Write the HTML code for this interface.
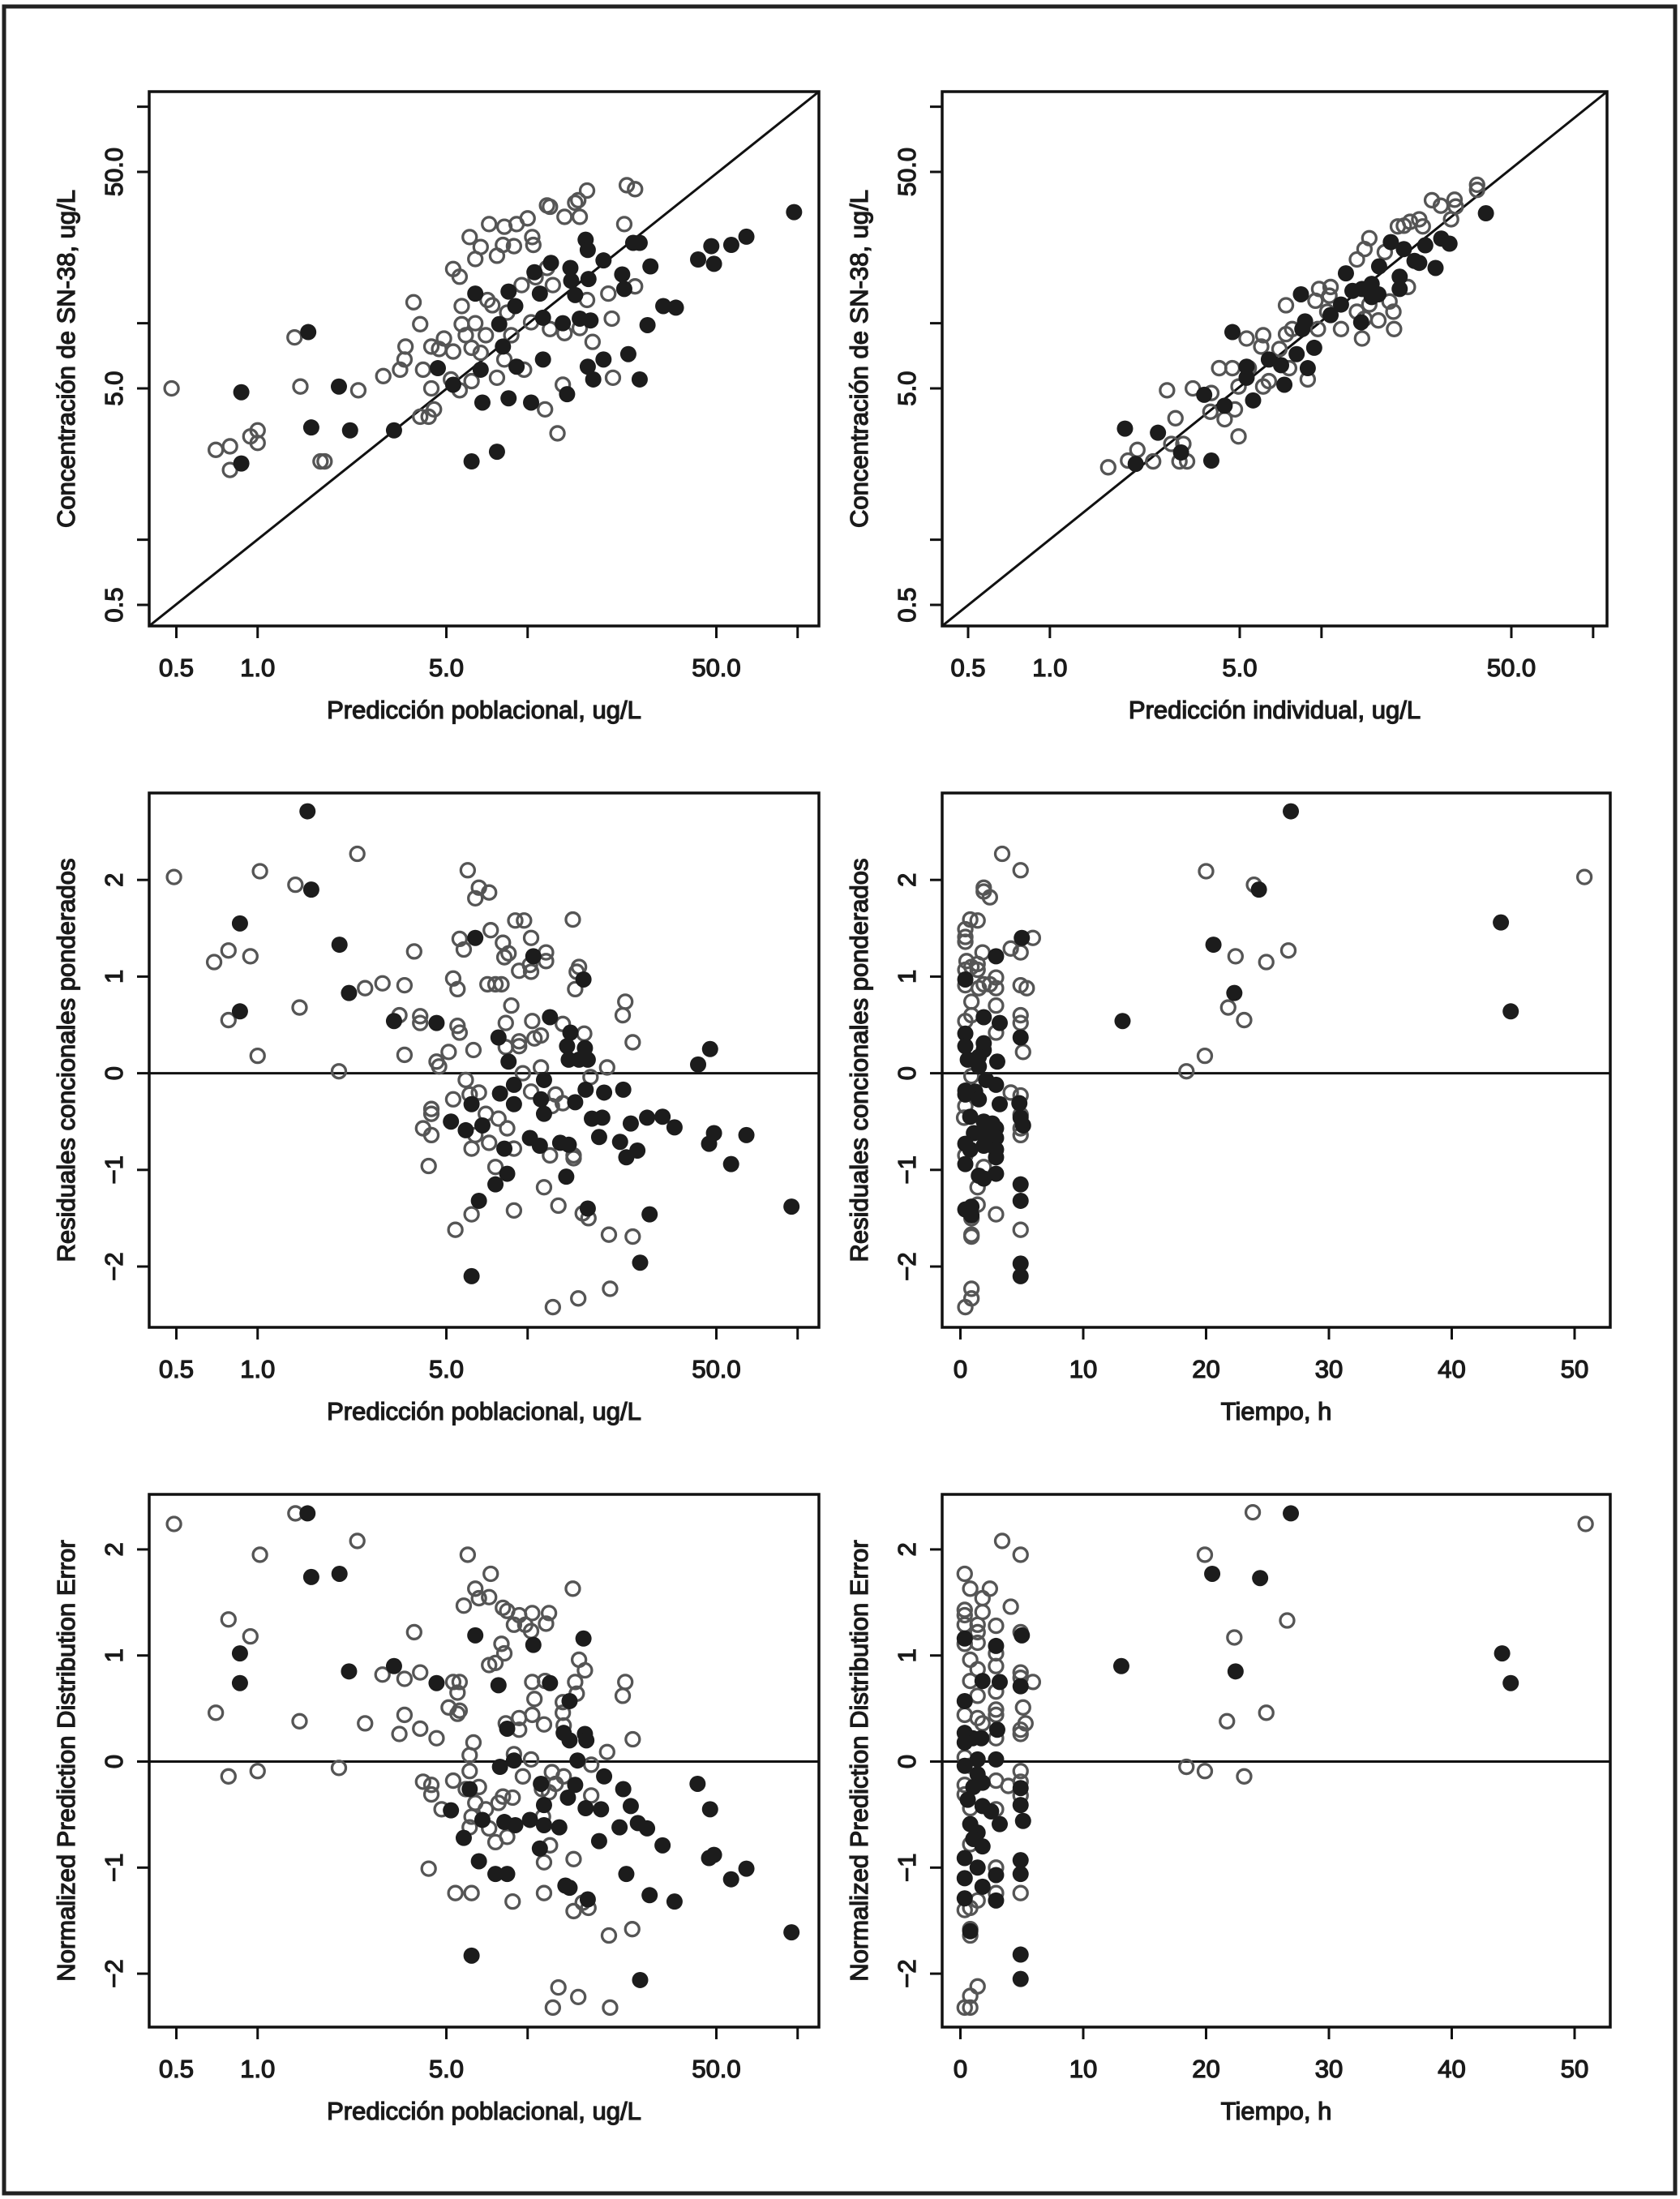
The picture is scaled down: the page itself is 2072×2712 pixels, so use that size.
<!DOCTYPE html>
<html><head><meta charset="utf-8"><title>Diagnostic plots SN-38</title>
<style>
html,body{margin:0;padding:0;background:#fff;}
svg{display:block;}
text{font-family:"Liberation Sans",sans-serif;fill:#1a1a1a;stroke:#1a1a1a;stroke-width:1.3px;}
</style></head>
<body>
<svg id="fig" width="2072" height="2712" viewBox="0 0 2072 2712" xmlns="http://www.w3.org/2000/svg">
<rect x="5" y="8" width="2061" height="2697" fill="#fff" stroke="#222" stroke-width="5"/>
</svg>
<script>
// ---------- Panel 1: PRED vs observed ----------
const p1PredFilled=[0.87,0.87,1.54,1.58,2.0,2.2,3.2,4.65,5.3,6.4,6.2,6.8,6.7,7.7,7.85,8.1,8.5,8.5,9.0,9.1,10.3,10.6,11.1,11.4,11.4,12.2,13.5,14,14.4,14.5,15,15.6,16.4,16.7,16.8,17.1,16.7,17.5,19.1,19.1,22.4,22.8,23.6,24.6,26,26,27.8,28.5,31.8,35.4,42.8,47.9,49,56.8,64.6,97];
const p1ObsFilled=[4.8,2.25,9.1,3.3,5.1,3.2,3.2,6.2,5.2,13.7,2.3,4.3,6.1,2.55,9.9,7.8,4.5,14,12,6.3,4.3,17.2,13.7,6.8,10.6,19,10,4.7,18,15.7,13.5,10.5,24.3,21.8,16.0,10.3,6.3,5.5,6.8,19.5,16.8,14.4,7.2,23.5,23.5,5.5,9.8,18.3,12,11.8,19.7,22.7,18.8,23,25.1,32.6];
const p1PredOpen=[0.48,0.70,0.79,0.79,0.94,1.0,1.0,1.37,1.44,1.71,1.77,2.36,2.92,3.37,3.5,3.53,3.78,4.0,4.1,4.0,4.3,4.5,4.4,4.4,4.7,4.9,5.3,5.2,5.3,5.6,5.6,5.7,5.7,5.9,6.1,6.2,6.2,6.4,6.4,6.7,6.7,7.0,7.1,7.2,7.4,7.7,7.7,8.1,8.2,8.4,8.9,9.1,10,9.5,8.2,8.7,9.7,10.3,10.4,10.5,10.7,11.6,11.8,11.8,12.1,12.1,12.4,12.9,13.5,13.7,13.7,15,15.4,15.6,15.6,16.6,16.6,17.4,19.9,20.5,20.7,22.8,23.3,25,25];
const p1ObsOpen=[5.0,2.6,2.7,2.1,3.0,3.2,2.8,8.6,5.1,2.3,2.3,4.9,5.7,6.1,6.8,7.8,12.5,9.9,6.1,3.7,3.7,4.0,5.0,7.8,7.6,8.5,7.4,5.5,17.8,16.4,4.9,9.9,12,8.8,25,7.7,5.4,19.8,10,22.5,7.3,8.8,12.8,28.7,12.1,20.5,5.6,23,27.9,11.2,22.7,28.7,30.5,15,6.8,8.8,6.1,10.1,25,23,16.3,4.0,18,35,34.5,9.4,15,3.1,5.2,31,9.0,36,37,31,9.5,41,12.8,8.2,13.7,10.5,5.6,28.7,43.4,41.6,14.8];

// ---------- Panel 2: IPRED vs observed ----------
const p2IpredFilled=[1.89,2.07,2.5,3.04,3.93,3.7,4.4,4.7,5.3,5.3,5.6,6.4,7.3,7.1,8.1,8.9,8.4,8.7,9.4,8.5,10.8,11.8,12.3,14,14.1,15.3,16.2,16.3,18,19.4,19.4,20.1,22,22.9,24.1,26.3,27.6,29.6,40.3,15.3,13.0];
const p2ObsFilled=[3.26,2.24,3.12,2.53,2.32,4.67,4.16,9.1,6.3,5.6,4.4,6.8,5.2,6.4,7.2,6.2,13.6,10.2,7.7,9.4,10.9,12.2,17,10.1,14.4,13.2,13.6,18.3,23.7,16.4,14.4,22,19.4,19,22.9,18,24.6,23.3,32.2,15.2,14.1];
const p2IpredOpen=[1.64,1.94,2.1,2.4,2.7,2.9,3.0,3.2,2.8,3.1,3.36,3.93,3.9,4.4,4.8,4.95,4.2,4.7,5.4,4.95,6.1,6.4,5.3,6.1,6.0,7.0,7.4,7.8,7.4,7.6,8.9,9.7,9.5,9.8,10.8,11.8,13.5,14.4,16.2,18.5,14.1,13.5,14.4,15,17.1,19.1,20.1,21.2,22.9,23.6,20.8,17.8,25.5,27.5,30.9,31.2,30,37.4,37.4,10.7,10.5,15,18.4];
const p2ObsOpen=[2.16,2.32,2.6,2.3,4.9,3.64,2.3,2.3,2.77,2.77,5.0,4.76,3.9,3.6,4.0,3.0,6.2,6.2,6.2,5.1,5.1,5.4,8.5,8.8,7.8,7.6,8.9,9.4,12.1,6.2,5.5,9.4,12.7,14.4,14.7,9.4,11.3,10.5,10.3,9.4,8.5,19.7,22,24.7,21.3,28,28.2,29.4,30.2,28,14.7,12.6,37,34.9,37.2,34.6,30.2,43.6,41.3,13.4,11.3,12.2,11.3];

// ---------- Panel 3: PRED vs CWRES ----------
const p3PredFilled=[1.53,1.58,0.86,2.01,2.18,0.86,3.2,4.6,6.4,10.5,16.1,12.1,7.8,14.4,14,16.3,14.2,15.5,16.7,8.5,47.4,42.8,11.5,8.9,7.9,11.2,8.9,6.2,16.4,19.2,22.6,15,11.5,5.2,6.8,5.9,17.3,18.9,24.1,27.7,31.6,35,49,47,64.6,18.4,10.2,11.1,13.2,14.2,22,25.5,23.2,8.2,56.7,8.4,7.6,13.9,6.6,16.7,28.3,94.9,26.1,6.2];
const p3CwresFilled=[2.71,1.90,1.55,1.33,0.83,0.64,0.54,0.52,1.40,1.21,0.97,0.58,0.37,0.42,0.28,0.26,0.14,0.14,0.14,0.12,0.25,0.09,-0.07,-0.12,-0.21,-0.27,-0.32,-0.32,-0.17,-0.2,-0.17,-0.3,-0.42,-0.5,-0.54,-0.59,-0.47,-0.46,-0.52,-0.46,-0.45,-0.56,-0.62,-0.73,-0.64,-0.66,-0.67,-0.75,-0.72,-0.74,-0.71,-0.8,-0.87,-0.78,-0.94,-1.04,-1.15,-1.07,-1.32,-1.4,-1.46,-1.38,-1.96,-2.1];
const p3PredOpen=[0.49,1.02,1.38,2.34,6.0,6.6,7.2,6.4,0.78,0.69,0.94,3.8,5.6,5.8,7.3,9.0,9.7,14.7,10.3,8.1,8.5,8.2,11.7,11.7,10.2,10.3,9.3,15.5,15.2,15,5.3,5.5,2.9,3.5,2.5,1.43,0.78,1.0,2.0,7.1,7.6,8.0,8.7,3.35,4.0,4.0,23,22.5,24.5,5.5,5.6,8.3,10.4,13.5,16.2,10.6,11.2,9.3,9.3,8.3,6.3,5.1,3.5,4.6,4.7,11.2,19.7,9.6,17.1,5.9,6.1,6.6,5.3,10.3,12.7,12.3,13.5,4.4,4.4,4.1,4.4,7.0,7.8,8.4,6.4,7.2,6.2,8.9,12.1,14.8,14.8,4.3,7.6,11.5,13,16,16.8,8.9,6.2,5.4,20,24.5,20.2,15.4,12.4];
const p3CwresOpen=[2.03,2.09,1.95,2.27,2.10,1.92,1.87,1.81,1.27,1.15,1.21,1.26,1.39,1.28,1.48,1.58,1.58,1.59,1.40,1.35,1.24,1.2,1.25,1.16,1.12,1.05,1.06,1.1,1.05,0.87,0.98,0.87,0.93,0.91,0.88,0.68,0.55,0.18,0.02,0.92,0.92,0.92,0.7,0.6,0.59,0.52,0.74,0.6,0.32,0.49,0.42,0.52,0.54,0.51,0.41,0.36,0.39,0.33,0.28,0.27,0.24,0.22,0.19,0.12,0.07,0.06,0.06,0.0,-0.04,-0.07,-0.22,-0.2,-0.27,-0.19,-0.22,-0.34,-0.31,-0.37,-0.42,-0.57,-0.64,-0.42,-0.47,-0.57,-0.64,-0.72,-0.78,-0.78,-0.85,-0.85,-0.88,-0.96,-0.97,-1.18,-1.37,-1.45,-1.5,-1.42,-1.46,-1.62,-1.67,-1.69,-2.23,-2.33,-2.42];

// ---------- Panel 4: Time vs CWRES ----------
const p4TimeFilled=[26.9,24.3,44.0,20.6,22.3,44.8,13.2,5.0,2.9,0.4,1.9,3.2,4.9,0.4,0.4,1.9,1.9,0.6,1.5,3.0,1.5,2.1,2.9,0.4,0.4,1.2,1.5,3.2,4.8,0.8,1.9,2.6,2.9,4.9,5.1,1.1,1.9,2.9,0.4,0.8,1.9,2.9,2.9,0.4,1.5,1.9,2.9,4.9,4.9,0.4,0.9,0.9,4.9,4.9];
const p4CwresFilled=[2.71,1.90,1.56,1.33,0.83,0.64,0.54,1.40,1.21,0.97,0.58,0.52,0.37,0.41,0.28,0.31,0.24,0.14,0.17,0.12,0.07,-0.07,-0.12,-0.18,-0.22,-0.19,-0.27,-0.32,-0.31,-0.45,-0.5,-0.52,-0.57,-0.46,-0.54,-0.62,-0.62,-0.67,-0.73,-0.79,-0.75,-0.79,-0.87,-0.94,-1.06,-1.09,-1.04,-1.15,-1.32,-1.41,-1.38,-1.47,-1.97,-2.1];
const p4TimeOpen=[3.4,4.9,20.0,23.9,50.8,1.9,1.9,2.4,0.8,1.4,0.4,0.4,0.4,5.9,4.1,4.9,1.8,26.7,22.4,24.9,0.5,0.9,1.4,1.4,0.4,0.4,1.9,2.9,2.9,2.4,1.5,4.9,5.4,0.9,2.9,21.8,23.1,19.9,18.4,4.9,4.9,0.4,0.9,2.9,5.1,0.9,4.1,4.9,0.4,0.3,4.9,4.9,4.9,0.4,1.9,1.4,1.4,2.9,0.9,0.9,0.9,4.9,0.9,0.9,0.4];
const p4CwresOpen=[2.27,2.1,2.09,1.95,2.03,1.92,1.88,1.82,1.59,1.58,1.49,1.41,1.36,1.4,1.29,1.25,1.25,1.27,1.21,1.15,1.16,1.1,1.13,1.07,1.07,0.91,0.92,0.99,0.88,0.92,0.88,0.91,0.88,0.74,0.7,0.68,0.55,0.18,0.02,0.6,0.52,0.54,0.6,0.42,0.22,-0.03,-0.2,-0.23,-0.34,-0.46,-0.43,-0.57,-0.64,-0.85,-0.97,-1.18,-1.36,-1.46,-1.5,-1.67,-1.69,-1.62,-2.23,-2.33,-2.42];

// ---------- Panel 5: PRED vs NPDE ----------
const p5PredFilled=[1.53,1.58,2.01,0.86,0.86,2.18,3.2,4.6,6.4,10.5,16.1,12.1,7.8,14.3,8.4,13.6,14.3,16.3,16.5,8.9,15.3,7.9,19.2,11.2,15,22.6,42.6,6.1,14.1,11.5,16.4,18.7,24.1,47.4,5.2,6.8,8.2,9.0,10.2,11.5,13.1,21.9,25.6,27.7,5.8,18.4,31.6,11.1,47,49,64.6,56.7,6.6,7.6,8.4,23.2,13.8,14.3,28.3,35,16.7,94.9,6.2,26.1];
const p5NpdeFilled=[2.34,1.74,1.77,1.02,0.74,0.85,0.9,0.74,1.19,1.1,1.16,0.74,0.72,0.57,0.31,0.27,0.2,0.26,0.2,0.01,0.01,-0.05,-0.14,-0.21,-0.22,-0.26,-0.21,-0.26,-0.34,-0.41,-0.44,-0.45,-0.42,-0.45,-0.46,-0.55,-0.57,-0.6,-0.55,-0.6,-0.62,-0.62,-0.58,-0.63,-0.72,-0.75,-0.79,-0.82,-0.91,-0.88,-1.01,-1.11,-0.94,-1.06,-1.06,-1.06,-1.17,-1.19,-1.26,-1.32,-1.3,-1.61,-1.83,-2.06];
const p5PredOpen=[0.49,1.38,2.34,1.02,6.0,7.3,14.7,6.4,6.6,7.2,5.8,8.1,8.4,9.3,8.9,9.8,10.3,10.4,12.0,11.7,0.78,0.94,3.8,8.0,8.2,7.2,7.6,15.5,16.3,2.9,3.5,4.0,5.3,5.6,5.5,10.4,11.6,15.0,15.2,23,22.5,10.6,0.70,1.43,2.5,5.1,5.6,5.5,3.5,13.5,13.5,9.3,10.4,11.5,8.3,9.3,13.6,3.35,4.0,4.6,24.5,6.3,6.1,19.7,8.9,10.3,0.78,1.0,2.0,6.1,17.2,12.3,13.6,9.6,4.1,4.4,4.4,5.3,6.6,5.9,11.3,12.0,12.7,17.2,7.8,8.8,8.1,6.4,4.8,7.0,6.2,11.4,6.1,7.2,8.4,7.6,12.1,11.5,14.8,4.3,5.4,6.2,11.5,8.8,16,14.8,16.8,20,24.4,13,15.4,12.4,20.2];
const p5NpdeOpen=[2.24,2.34,2.08,1.95,1.95,1.77,1.63,1.63,1.54,1.55,1.47,1.45,1.42,1.38,1.29,1.29,1.23,1.4,1.4,1.3,1.34,1.18,1.22,1.11,1.02,0.91,0.93,0.96,0.86,0.82,0.78,0.84,0.75,0.75,0.65,0.75,0.76,0.75,0.64,0.75,0.62,0.59,0.46,0.38,0.36,0.51,0.48,0.45,0.44,0.56,0.46,0.41,0.44,0.35,0.36,0.3,0.34,0.26,0.31,0.22,0.21,0.18,0.06,0.09,0.07,0.02,-0.14,-0.09,-0.06,-0.09,-0.03,-0.1,-0.14,-0.14,-0.19,-0.22,-0.31,-0.18,-0.24,-0.26,-0.26,-0.29,-0.21,-0.32,-0.39,-0.34,-0.33,-0.39,-0.45,-0.45,-0.52,-0.52,-0.62,-0.63,-0.71,-0.76,-0.79,-0.95,-0.92,-1.01,-1.24,-1.24,-1.24,-1.32,-1.33,-1.41,-1.38,-1.64,-1.58,-2.13,-2.22,-2.32,-2.32];

// ---------- Panel 6: Time vs NPDE ----------
const p6TimeFilled=[26.9,20.5,24.4,13.1,22.4,44.1,44.8,0.35,2.9,5.0,1.8,3.2,4.9,0.35,3.0,0.35,1.0,1.7,0.35,2.9,1.4,0.35,1.4,1.8,1.05,4.9,0.6,4.9,5.1,1.8,2.5,3.2,0.8,1.4,1.05,1.8,0.35,1.4,1.8,0.35,2.9,2.9,0.35,4.9,4.9,0.8,4.9,4.9];
const p6NpdeFilled=[2.34,1.77,1.73,0.9,0.85,1.02,0.74,1.16,1.09,1.19,0.76,0.75,0.71,0.57,0.3,0.27,0.22,0.22,0.18,0.02,0.02,-0.04,-0.12,-0.2,-0.24,-0.25,-0.36,-0.41,-0.56,-0.42,-0.47,-0.59,-0.59,-0.67,-0.73,-0.8,-0.91,-1.0,-1.18,-1.29,-1.07,-1.31,-1.1,-0.93,-1.06,-1.6,-1.82,-2.05];
const p6TimeOpen=[3.4,4.9,19.9,23.8,50.9,0.35,0.8,2.4,1.8,1.8,4.1,0.35,0.35,0.35,1.4,1.4,2.9,26.6,22.3,4.9,0.35,1.4,0.8,2.9,2.9,1.4,4.9,4.9,5.9,0.8,1.4,2.9,5.1,2.9,2.9,0.35,1.4,1.8,24.9,21.7,5.3,4.9,4.9,2.9,0.35,0.8,18.4,19.9,23.1,2.9,3.9,4.9,4.9,0.35,0.35,0.8,2.9,4.9,0.8,2.9,2.9,4.9,1.4,0.35,0.8,0.8,0.8,1.4,0.8,0.35,0.8];
const p6NpdeOpen=[2.08,1.95,1.95,2.35,2.24,1.77,1.63,1.63,1.54,1.41,1.46,1.43,1.38,1.29,1.29,1.22,1.28,1.33,1.17,1.22,1.11,1.12,0.96,1.02,0.9,0.87,0.84,0.79,0.75,0.76,0.62,0.66,0.51,0.49,0.44,0.44,0.41,0.36,0.46,0.38,0.36,0.3,0.26,0.22,0.04,-0.04,-0.05,-0.09,-0.14,-0.18,-0.23,-0.09,-0.19,-0.22,-0.31,-0.44,-0.45,-0.32,-0.78,-1.0,-1.24,-1.24,-1.31,-1.4,-1.38,-1.58,-1.64,-2.12,-2.21,-2.32,-2.32];

// ---------- Axis tick labels ----------
const logTicks=[0.5,1,5,10,50,100];
const logTickLabels=["0.5","1.0","5.0","","50.0",""];
const obsTicks=[0.5,1,5,10,50,100];
const obsTickLabels=["0.5","","5.0","","50.0",""];
const resTicks=[-2,-1,0,1,2];
const resTickLabels=["\u22122","\u22121","0","1","2"];
const timeTicks=[0,10,20,30,40,50];
const timeTickLabels=["0","10","20","30","40","50"];

const NS="http://www.w3.org/2000/svg";
const svg=document.getElementById('fig');
function mk(tag,attrs,parent){const e=document.createElementNS(NS,tag);for(const k in attrs)e.setAttribute(k,attrs[k]);(parent||svg).appendChild(e);return e;}

function logScale(v0Val,v0Px,decPx,dir){return v=>v0Px+dir*decPx*(Math.log10(v)-Math.log10(v0Val));}
function linScale(v0Px,unitPx,dir){return v=>v0Px+dir*unitPx*v;}

function panel(cfg){
  const g=mk('g',{});
  
  
  const b=cfg.box;
  if(cfg.identity){
    const ln=mk('line',{x1:b.l,y1:b.b,x2:b.r,y2:b.t,stroke:'#111','stroke-width':3},g);
    
    
  }
  if(cfg.zeroLine){
    const y0=cfg.sy(0);
    const ln=mk('line',{x1:b.l,y1:y0,x2:b.r,y2:y0,stroke:'#111','stroke-width':3},g);
    
    
  }
  for(let i=0;i<cfg.xo.length;i++){
    const c=mk('circle',{cx:cfg.sx(cfg.xo[i]),cy:cfg.sy(cfg.yo[i]),r:8.5,fill:'none',stroke:'#555','stroke-width':3.3},g);
    
    
  }
  for(let i=0;i<cfg.xf.length;i++){
    const c=mk('circle',{cx:cfg.sx(cfg.xf[i]),cy:cfg.sy(cfg.yf[i]),r:10,fill:'#1c1c1c',stroke:'none'},g);
    
    
  }
  const box=mk('rect',{x:b.l,y:b.t,width:b.r-b.l,height:b.b-b.t,fill:'none',stroke:'#111','stroke-width':3.5},g);
  
  
  cfg.xTicks.forEach((v,i)=>{
    const x=cfg.sx(v);
    const t=mk('line',{x1:x,y1:b.b,x2:x,y2:b.b+15,stroke:'#111','stroke-width':3},g);
    
    
    if(cfg.xLabels[i]){
      const tx=mk('text',{x:x,y:b.b+62,'text-anchor':'middle','font-size':31},g);
      tx.textContent=cfg.xLabels[i];
      
      
    }
  });
  cfg.yTicks.forEach((v,i)=>{
    const y=cfg.sy(v);
    const t=mk('line',{x1:b.l,y1:y,x2:b.l-15,y2:y,stroke:'#111','stroke-width':3},g);
    
    
    if(cfg.yLabels[i]){
      const xx=b.l-33;
      const tx=mk('text',{x:xx,y:y,'text-anchor':'middle','font-size':31,transform:`rotate(-90 ${xx} ${y})`},g);
      tx.textContent=cfg.yLabels[i];
      
      
    }
  });
  const cx=(b.l+b.r)/2;
  const xt=mk('text',{x:cx,y:b.b+114,'text-anchor':'middle','font-size':31},g);
  xt.textContent=cfg.xTitle;
  
  
  const cy=(b.t+b.b)/2, yx=b.l-92;
  const yt=mk('text',{x:yx,y:cy,'text-anchor':'middle','font-size':31,transform:`rotate(-90 ${yx} ${cy})`},g);
  yt.textContent=cfg.yTitle;
  
  
}

const B1={l:184,r:1010,t:113,b:772}, B2={l:1162,r:1982,t:113,b:772};
const B3={l:184,r:1010,t:978,b:1637}, B4={l:1162,r:1986,t:978,b:1637};
const B5={l:184,r:1010,t:1843,b:2500}, B6={l:1162,r:1986,t:1843,b:2500};
const sxL=logScale(0.5,217.5,333,1);
const sx2=logScale(0.5,1194,335,1);
const syObs=logScale(5,479,267,-1);
const syRes=linScale(1323.6,119.2,-1);
const syNp=linScale(2172.5,130.8,-1);
const sxT=linScale(1184.5,15.15,1);

panel({name:'panel-observed-vs-population-prediction',box:B1,sx:sxL,sy:syObs,identity:true,xf:p1PredFilled,yf:p1ObsFilled,xo:p1PredOpen,yo:p1ObsOpen,xTicks:logTicks,xLabels:logTickLabels,yTicks:obsTicks,yLabels:obsTickLabels,xTitle:'Predicción poblacional, ug/L',yTitle:'Concentración de SN-38, ug/L'});
panel({name:'panel-observed-vs-individual-prediction',box:B2,sx:sx2,sy:syObs,identity:true,xf:p2IpredFilled,yf:p2ObsFilled,xo:p2IpredOpen,yo:p2ObsOpen,xTicks:logTicks,xLabels:logTickLabels,yTicks:obsTicks,yLabels:obsTickLabels,xTitle:'Predicción individual, ug/L',yTitle:'Concentración de SN-38, ug/L'});
panel({name:'panel-cwres-vs-population-prediction',box:B3,sx:sxL,sy:syRes,zeroLine:true,xf:p3PredFilled,yf:p3CwresFilled,xo:p3PredOpen,yo:p3CwresOpen,xTicks:logTicks,xLabels:logTickLabels,yTicks:resTicks,yLabels:resTickLabels,xTitle:'Predicción poblacional, ug/L',yTitle:'Residuales concionales ponderados'});
panel({name:'panel-cwres-vs-time',box:B4,sx:sxT,sy:syRes,zeroLine:true,xf:p4TimeFilled,yf:p4CwresFilled,xo:p4TimeOpen,yo:p4CwresOpen,xTicks:timeTicks,xLabels:timeTickLabels,yTicks:resTicks,yLabels:resTickLabels,xTitle:'Tiempo, h',yTitle:'Residuales concionales ponderados'});
panel({name:'panel-npde-vs-population-prediction',box:B5,sx:sxL,sy:syNp,zeroLine:true,xf:p5PredFilled,yf:p5NpdeFilled,xo:p5PredOpen,yo:p5NpdeOpen,xTicks:logTicks,xLabels:logTickLabels,yTicks:resTicks,yLabels:resTickLabels,xTitle:'Predicción poblacional, ug/L',yTitle:'Normalized Prediction Distribution Error'});
panel({name:'panel-npde-vs-time',box:B6,sx:sxT,sy:syNp,zeroLine:true,xf:p6TimeFilled,yf:p6NpdeFilled,xo:p6TimeOpen,yo:p6NpdeOpen,xTicks:timeTicks,xLabels:timeTickLabels,yTicks:resTicks,yLabels:resTickLabels,xTitle:'Tiempo, h',yTitle:'Normalized Prediction Distribution Error'});
</script>
</body></html>
